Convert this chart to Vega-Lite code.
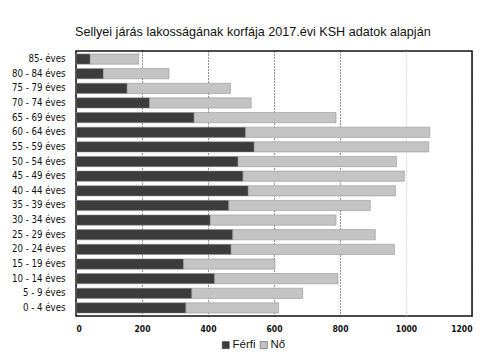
{
  "$schema": "https://vega.github.io/schema/vega-lite/v6.json",
  "width": 396,
  "height": 265,
  "autosize": {"type": "none"},
  "padding": {"left": 76, "top": 51, "right": 17, "bottom": 42},
  "background": "white",
  "title": {
    "text": "Sellyei járás lakosságának korfája 2017.évi KSH adatok alapján",
    "font": "Liberation Sans",
    "fontSize": 12.6,
    "fontWeight": "normal",
    "color": "#111",
    "anchor": "start",
    "frame": "group",
    "offset": 12,
    "dx": -1
  },
  "data": {
    "values": [
      {"kor": "85- éves", "nem": "Férfi", "fo": 43}, {"kor": "85- éves", "nem": "Nő", "fo": 147},
      {"kor": "80 - 84 éves", "nem": "Férfi", "fo": 83}, {"kor": "80 - 84 éves", "nem": "Nő", "fo": 199},
      {"kor": "75 - 79 éves", "nem": "Férfi", "fo": 155}, {"kor": "75 - 79 éves", "nem": "Nő", "fo": 313},
      {"kor": "70 - 74 éves", "nem": "Férfi", "fo": 223}, {"kor": "70 - 74 éves", "nem": "Nő", "fo": 308},
      {"kor": "65 - 69 éves", "nem": "Férfi", "fo": 358}, {"kor": "65 - 69 éves", "nem": "Nő", "fo": 430},
      {"kor": "60 - 64 éves", "nem": "Férfi", "fo": 514}, {"kor": "60 - 64 éves", "nem": "Nő", "fo": 558},
      {"kor": "55 - 59 éves", "nem": "Férfi", "fo": 540}, {"kor": "55 - 59 éves", "nem": "Nő", "fo": 529},
      {"kor": "50 - 54 éves", "nem": "Férfi", "fo": 491}, {"kor": "50 - 54 éves", "nem": "Nő", "fo": 480},
      {"kor": "45 - 49 éves", "nem": "Férfi", "fo": 506}, {"kor": "45 - 49 éves", "nem": "Nő", "fo": 489},
      {"kor": "40 - 44 éves", "nem": "Férfi", "fo": 522}, {"kor": "40 - 44 éves", "nem": "Nő", "fo": 446},
      {"kor": "35 - 39 éves", "nem": "Férfi", "fo": 463}, {"kor": "35 - 39 éves", "nem": "Nő", "fo": 429},
      {"kor": "30 - 34 éves", "nem": "Férfi", "fo": 407}, {"kor": "30 - 34 éves", "nem": "Nő", "fo": 381},
      {"kor": "25 - 29 éves", "nem": "Férfi", "fo": 475}, {"kor": "25 - 29 éves", "nem": "Nő", "fo": 432},
      {"kor": "20 - 24 éves", "nem": "Férfi", "fo": 470}, {"kor": "20 - 24 éves", "nem": "Nő", "fo": 495},
      {"kor": "15 - 19 éves", "nem": "Férfi", "fo": 326}, {"kor": "15 - 19 éves", "nem": "Nő", "fo": 277},
      {"kor": "10 - 14 éves", "nem": "Férfi", "fo": 420}, {"kor": "10 - 14 éves", "nem": "Nő", "fo": 374},
      {"kor": "5 - 9 éves", "nem": "Férfi", "fo": 351}, {"kor": "5 - 9 éves", "nem": "Nő", "fo": 336},
      {"kor": "0 - 4 éves", "nem": "Férfi", "fo": 333}, {"kor": "0 - 4 éves", "nem": "Nő", "fo": 281}
    ]
  },
  "mark": {"type": "bar", "stroke": "#888", "strokeWidth": 0.5},
  "encoding": {
    "y": {
      "field": "kor",
      "type": "nominal",
      "sort": null,
      "scale": {"paddingInner": 0.3, "paddingOuter": 0.2},
      "axis": {
        "title": null,
        "ticks": false,
        "domain": false,
        "labelPadding": 11,
        "labelFont": "DejaVu Sans Condensed",
        "labelFontSize": 9.6,
        "labelColor": "#111"
      }
    },
    "x": {
      "field": "fo",
      "type": "quantitative",
      "stack": "zero",
      "scale": {"domain": [0, 1200], "nice": false},
      "axis": {
        "title": null,
        "values": [0, 200, 400, 600, 800, 1000, 1200],
        "format": "d",
        "ticks": false,
        "domain": false,
        "labelPadding": 8,
        "labelFont": "DejaVu Sans Condensed",
        "labelFontSize": 8.5,
        "labelFontWeight": "bold",
        "labelColor": "#111",
        "grid": true,
        "gridColor": {"condition": {"test": "datum.value === 1000", "value": "#bbbbbb"}, "value": "#222222"},
        "gridDash": [1, 2],
        "gridWidth": 1
      }
    },
    "color": {
      "field": "nem",
      "type": "nominal",
      "scale": {"domain": ["Férfi", "Nő"], "range": ["#3c3c3c", "#c4c4c4"]},
      "legend": {
        "title": null,
        "orient": "none",
        "direction": "horizontal",
        "legendX": 144,
        "legendY": 288,
        "symbolType": "square",
        "symbolSize": 50,
        "symbolStrokeColor": "#333",
        "symbolStrokeWidth": 0.5,
        "labelFont": "Liberation Sans",
        "labelFontSize": 11.5,
        "labelColor": "#111",
        "labelOffset": 1,
        "columnPadding": 2
      }
    }
  },
  "config": {
    "view": {"stroke": "#111", "strokeWidth": 1.5}
  }
}
